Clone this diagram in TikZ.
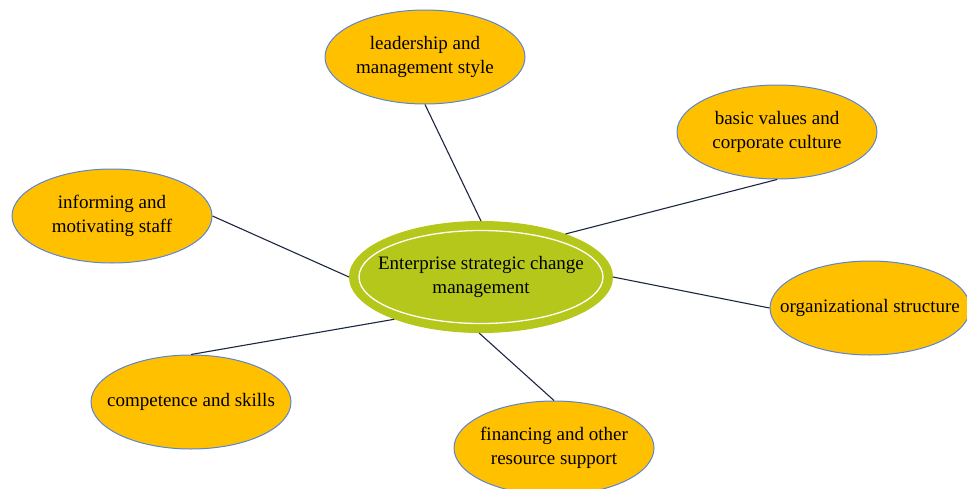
\documentclass[tikz,border=0pt]{standalone}
\usepackage{fontspec}
\setmainfont{Liberation Serif}
\usetikzlibrary{shapes.geometric}
\definecolor{topicfill}{HTML}{FFC000}
\definecolor{topicedge}{HTML}{5B84D6}
\definecolor{corefill}{HTML}{B5C71A}
\definecolor{linkcol}{HTML}{1C2640}
\tikzset{
  topic/.style={ellipse, fill=topicfill, draw=topicedge, line width=1pt,
    minimum width=200pt, minimum height=94pt, inner xsep=-40pt, inner ysep=0pt,
    align=center, font=\fontsize{19}{23.5}\selectfont},
  core/.style={ellipse, fill=corefill, draw=corefill, line width=1pt,
    minimum width=263pt, minimum height=111pt, inner xsep=-40pt, inner ysep=0pt,
    align=center, font=\fontsize{19}{23.5}\selectfont,
    path picture={\draw[white, line width=1.3pt] (path picture bounding box.center)
      ellipse [x radius=122pt, y radius=46.5pt];}},
  link/.style={draw=linkcol, line width=1.1pt}
}
\begin{document}
\begin{tikzpicture}[x=1pt, y=-1pt]
\useasboundingbox (0,0) rectangle (967,488);
\clip (0,0) rectangle (967,488);
% central topic
\node[core] (center) at (481,277) {Enterprise strategic change\\management};
% surrounding factors
\node[topic] (lead) at (425,57) {leadership and\\management style};
\node[topic] (values) at (777,132) {basic values and\\corporate culture};
\node[topic] (inform) at (112,216) {informing and\\motivating staff};
\node[topic] (org) at (870,308) {organizational structure};
\node[topic] (skills) at (191,402) {competence and skills};
\node[topic] (finance) at (554,448) {financing and other\\resource support};
% connectors
\draw[link] (lead.south) -- (center.north);
\draw[link] (values.south) -- (center.27.6);
\draw[link] (inform.east) -- (center.west);
\draw[link] (org.west) -- (center.east);
\draw[link] (skills.north) -- (center.206.6);
\draw[link] (finance.north) -- (center.268);
\end{tikzpicture}
\end{document}
